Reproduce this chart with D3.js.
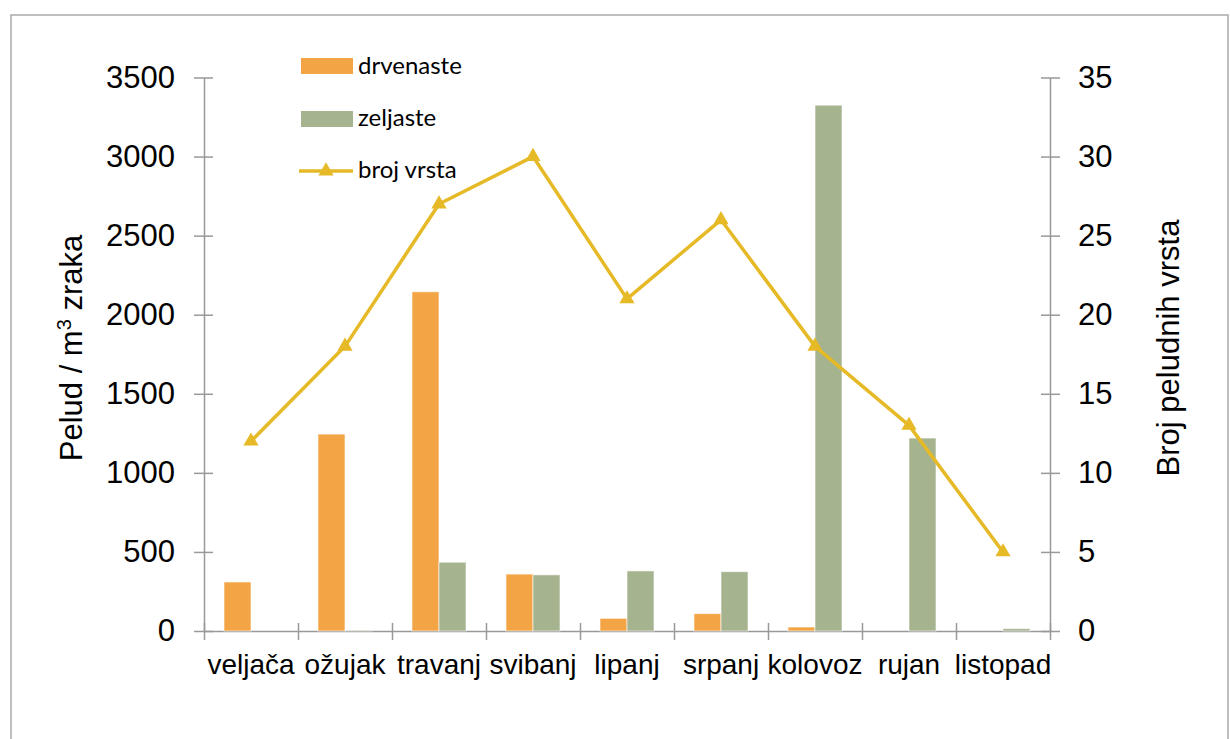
<!DOCTYPE html>
<html>
<head>
<meta charset="utf-8">
<script src="https://cdn.jsdelivr.net/npm/d3@7"></script>
<style>
  body { margin: 0; background: #fff; }
  .axis text { font-family: "Liberation Sans", Arial, sans-serif; fill: #000; }
  .axis path, .axis line { stroke: #999; stroke-width: 1.5; }
  .legend-text { font-family: Lato, "Open Sans", sans-serif; font-size: 24px; fill: #000; }
  .title-text { font-family: "Liberation Sans", Arial, sans-serif; font-size: 31px; fill: #000; }
</style>
</head>
<body>
<div id="chart"></div>
<script>

var months = ['veljača', 'ožujak', 'travanj', 'svibanj', 'lipanj', 'srpanj', 'kolovoz', 'rujan', 'listopad']
var drvenaste = [310, 1245, 2145, 360, 80, 110, 25, 0, 0]
var zeljaste = [0, 5, 435, 355, 380, 375, 3325, 1220, 15]
var brojVrsta = [12, 18, 27, 30, 21, 26, 18, 13, 5]
var leftTicks = [0, 500, 1000, 1500, 2000, 2500, 3000, 3500]
var rightTicks = [0, 5, 10, 15, 20, 25, 30, 35]

var orangeColor = '#F3A546'
var greenColor = '#A5B38F'
var lineColor = '#E6B927'

var width = 1230, height = 739;
var plot = { left: 204, right: 1050, top: 77.5, bottom: 631 };

var svg = d3.select("#chart").append("svg")
  .attr("width", width)
  .attr("height", height);

// outer frame
svg.append("rect")
  .attr("x", 11).attr("y", 15)
  .attr("width", 1217).attr("height", 740)
  .attr("fill", "none")
  .attr("stroke", "#aaa")
  .attr("stroke-width", 1.5);

var xScale = d3.scaleBand()
  .domain(months)
  .range([plot.left, plot.right])
  .padding(0);

var xSub = d3.scaleBand()
  .domain(['drvenaste', 'zeljaste'])
  .range([0, xScale.bandwidth()])
  .paddingInner(0)
  .paddingOuter(0.74);

var yLeft = d3.scaleLinear().domain([0, 3500]).range([plot.bottom, plot.top]);
var yRight = d3.scaleLinear().domain([0, 35]).range([plot.bottom, plot.top]);

// left axis
var leftAxis = svg.append("g")
  .attr("class", "axis")
  .attr("transform", "translate(" + plot.left + ",0)")
  .call(d3.axisLeft(yLeft).tickValues(leftTicks).tickFormat(d3.format("d"))
    .tickSize(10).tickSizeOuter(0).tickPadding(19));
leftAxis.selectAll(".tick line").attr("x2", -10).attr("x1", 9);
leftAxis.selectAll("text").style("font-size", "31px");

// right axis
var rightAxis = svg.append("g")
  .attr("class", "axis")
  .attr("transform", "translate(" + plot.right + ",0)")
  .call(d3.axisRight(yRight).tickValues(rightTicks).tickFormat(d3.format("d"))
    .tickSize(10).tickSizeOuter(0).tickPadding(18));
rightAxis.selectAll(".tick line").attr("x2", 10).attr("x1", -9);
rightAxis.selectAll("text").style("font-size", "31px");

// bottom axis: tick marks at band edges
var edgeScale = d3.scaleLinear().domain([0, months.length]).range([plot.left, plot.right]);
var edgeAxis = svg.append("g")
  .attr("class", "axis")
  .attr("transform", "translate(0," + plot.bottom + ")")
  .call(d3.axisBottom(edgeScale).ticks(months.length).tickSize(9).tickSizeOuter(0).tickFormat(""));
edgeAxis.selectAll(".tick line").attr("y1", -8);

// bottom axis labels
var labelAxis = svg.append("g")
  .attr("class", "axis")
  .attr("transform", "translate(0," + plot.bottom + ")")
  .call(d3.axisBottom(xScale).tickSize(0).tickPadding(23));
labelAxis.select(".domain").remove();
labelAxis.selectAll("text").style("font-size", "28px");

// bars
var barData = [];
months.forEach(function(m, i) {
  barData.push({ month: m, series: 'drvenaste', value: drvenaste[i] });
  barData.push({ month: m, series: 'zeljaste', value: zeljaste[i] });
});

svg.append("g").selectAll(".bar")
  .data(barData.filter(function(d) { return d.value > 0; }))
  .enter().append("rect")
    .attr("class", "bar")
    .attr("x", function(d) { return xScale(d.month) + xSub(d.series); })
    .attr("width", xSub.bandwidth())
    .attr("y", function(d) { return yLeft(d.value); })
    .attr("height", function(d) { return plot.bottom - yLeft(d.value); })
    .style("fill", function(d) { return d.series == 'drvenaste' ? orangeColor : greenColor; })
    .style("stroke", "rgba(255,255,255,0.6)")
    .style("stroke-width", 1);

// line
var line = d3.line()
  .x(function(d, i) { return xScale(months[i]) + xScale.bandwidth() / 2; })
  .y(function(d) { return yRight(d); });

svg.append("path")
  .datum(brojVrsta)
  .attr("d", line)
  .attr("fill", "none")
  .attr("stroke", lineColor)
  .attr("stroke-width", 3.5)
  .attr("stroke-linejoin", "round");

var triangle = d3.symbol().type(d3.symbolTriangle).size(100);

svg.append("g").selectAll(".marker")
  .data(brojVrsta)
  .enter().append("path")
    .attr("class", "marker")
    .attr("d", triangle)
    .attr("transform", function(d, i) {
      return "translate(" + (xScale(months[i]) + xScale.bandwidth() / 2) + "," + yRight(d) + ")";
    })
    .attr("fill", lineColor);

// legend
var legend = svg.append("g");

legend.append("rect").attr("x", 301).attr("y", 58).attr("width", 52).attr("height", 16).attr("fill", orangeColor);
legend.append("text").attr("class", "legend-text").attr("x", 358).attr("y", 74).text("drvenaste");

legend.append("rect").attr("x", 301).attr("y", 111).attr("width", 52).attr("height", 16).attr("fill", greenColor);
legend.append("text").attr("class", "legend-text").attr("x", 358).attr("y", 126).text("zeljaste");

legend.append("line").attr("x1", 299).attr("x2", 353).attr("y1", 171).attr("y2", 171)
  .attr("stroke", lineColor).attr("stroke-width", 3.5);
legend.append("path").attr("d", triangle).attr("transform", "translate(326,171)").attr("fill", lineColor);
legend.append("text").attr("class", "legend-text").attr("x", 358).attr("y", 178).text("broj vrsta");

// axis titles
var leftTitle = svg.append("text")
  .attr("class", "title-text")
  .attr("transform", "translate(82,348) rotate(-90)")
  .style("text-anchor", "middle");
leftTitle.append("tspan").text("Pelud / m");
leftTitle.append("tspan").attr("dy", -11).style("font-size", "20px").text("3");
leftTitle.append("tspan").attr("dy", 11).text(" zraka");

svg.append("text")
  .attr("class", "title-text")
  .attr("transform", "translate(1179,348) rotate(-90)")
  .style("text-anchor", "middle")
  .text("Broj peludnih vrsta");

</script>
</body>
</html>
